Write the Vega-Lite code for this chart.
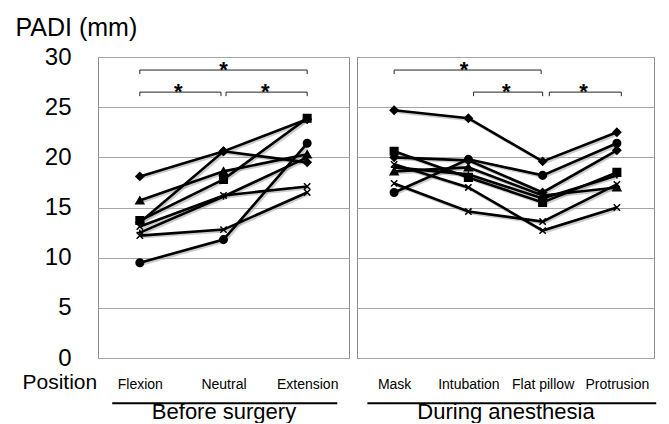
{
  "$schema": "https://vega.github.io/schema/vega-lite/v6.json",
  "padding": {"left": 14, "right": 14, "top": 14, "bottom": 0},
  "config": {
    "font": "Liberation Sans",
    "view": {"stroke": "#8c8c8c", "strokeWidth": 1},
    "axis": {"labelFont": "Liberation Sans", "titleFont": "Liberation Sans", "labelColor": "#000", "titleColor": "#000", "titleFontWeight": "normal", "ticks": false, "domain": false}
  },
  "datasets": {
    "before": [
      {"s": "A", "i": 0, "v": 18.1}, {"s": "A", "i": 1, "v": 20.6}, {"s": "A", "i": 2, "v": 19.5},
      {"s": "B", "i": 0, "v": 15.7}, {"s": "B", "i": 1, "v": 18.6}, {"s": "B", "i": 2, "v": 20.3},
      {"s": "C", "i": 0, "v": 13.7}, {"s": "C", "i": 1, "v": 17.8}, {"s": "C", "i": 2, "v": 23.9},
      {"s": "D", "i": 0, "v": 13.5}, {"s": "D", "i": 1, "v": 20.6}, {"s": "D", "i": 2, "v": 23.8},
      {"s": "E", "i": 0, "v": 13.1}, {"s": "E", "i": 1, "v": 16.2}, {"s": "E", "i": 2, "v": 17.1},
      {"s": "F", "i": 0, "v": 12.5}, {"s": "F", "i": 1, "v": 16.1}, {"s": "F", "i": 2, "v": 20.0},
      {"s": "G", "i": 0, "v": 12.2}, {"s": "G", "i": 1, "v": 12.8}, {"s": "G", "i": 2, "v": 16.5},
      {"s": "H", "i": 0, "v": 9.5}, {"s": "H", "i": 1, "v": 11.8}, {"s": "H", "i": 2, "v": 21.4}
    ],
    "during": [
      {"s": "A", "i": 0, "v": 24.7}, {"s": "A", "i": 1, "v": 23.9}, {"s": "A", "i": 2, "v": 19.6}, {"s": "A", "i": 3, "v": 22.5},
      {"s": "B", "i": 0, "v": 18.6}, {"s": "B", "i": 1, "v": 19.0}, {"s": "B", "i": 2, "v": 16.2}, {"s": "B", "i": 3, "v": 17.0},
      {"s": "C", "i": 0, "v": 20.6}, {"s": "C", "i": 1, "v": 18.0}, {"s": "C", "i": 2, "v": 15.5}, {"s": "C", "i": 3, "v": 18.5},
      {"s": "D", "i": 0, "v": 20.0}, {"s": "D", "i": 1, "v": 19.7}, {"s": "D", "i": 2, "v": 16.5}, {"s": "D", "i": 3, "v": 20.7},
      {"s": "E", "i": 0, "v": 17.4}, {"s": "E", "i": 1, "v": 14.6}, {"s": "E", "i": 2, "v": 13.6}, {"s": "E", "i": 3, "v": 17.3},
      {"s": "F", "i": 0, "v": 19.0}, {"s": "F", "i": 1, "v": 18.3}, {"s": "F", "i": 2, "v": 15.9}, {"s": "F", "i": 3, "v": 18.2},
      {"s": "G", "i": 0, "v": 19.3}, {"s": "G", "i": 1, "v": 17.0}, {"s": "G", "i": 2, "v": 12.7}, {"s": "G", "i": 3, "v": 15.0},
      {"s": "H", "i": 0, "v": 16.5}, {"s": "H", "i": 1, "v": 19.8}, {"s": "H", "i": 2, "v": 18.2}, {"s": "H", "i": 3, "v": 21.4}
    ],
    "bracketsBefore": [
      {"x1": 0, "x2": 2, "y": 28.7, "y2": 28.3},
      {"x1": 0, "x2": 0.97, "y": 26.5, "y2": 26.1},
      {"x1": 1.03, "x2": 2, "y": 26.5, "y2": 26.1}
    ],
    "starsBefore": [
      {"x": 1.0, "y": 28.0}, {"x": 0.46, "y": 25.8}, {"x": 1.5, "y": 25.8}
    ],
    "bracketsDuring": [
      {"x1": 0, "x2": 1.98, "y": 28.7, "y2": 28.3},
      {"x1": 1.07, "x2": 2.0, "y": 26.5, "y2": 26.1},
      {"x1": 2.09, "x2": 3.06, "y": 26.5, "y2": 26.1}
    ],
    "starsDuring": [
      {"x": 0.94, "y": 28.0}, {"x": 1.51, "y": 25.8}, {"x": 2.55, "y": 25.8}
    ]
  },
  "spacing": 6,
  "hconcat": [
    {
      "width": 251,
      "height": 301,
      "layer": [
        {
          "data": {"name": "before"},
          "mark": {"type": "line", "color": "#9a9a9a", "strokeWidth": 3, "opacity": 0.5, "xOffset": 1.5, "yOffset": 1.5},
          "encoding": {
            "x": {"field": "i", "type": "quantitative", "scale": {"domain": [-0.5, 2.5]},
              "axis": {"values": [0, 1, 2], "grid": false, "labelExpr": "['Flexion','Neutral','Extension'][datum.value]", "labelFontSize": 14, "labelPadding": 19, "title": "Before surgery", "titleFontSize": 22, "titlePadding": 10}},
            "y": {"field": "v", "type": "quantitative", "scale": {"domain": [0, 30]},
              "axis": {"values": [0, 5, 10, 15, 20, 25, 30], "grid": true, "gridColor": "#a6a6a6", "gridWidth": 1, "labelFontSize": 24, "labelPadding": 27, "title": "PADI (mm)", "titleFontSize": 25, "titleAngle": 0, "titleAlign": "left", "titleBaseline": "alphabetic", "titleX": -83, "titleY": -22}},
            "detail": {"field": "s"}
          }
        },
        {
          "data": {"name": "before"},
          "mark": {"type": "line", "color": "#000", "strokeWidth": 2.6},
          "encoding": {
            "x": {"field": "i", "type": "quantitative", "scale": {"domain": [-0.5, 2.5]}},
            "y": {"field": "v", "type": "quantitative", "scale": {"domain": [0, 30]}},
            "detail": {"field": "s"}
          }
        },
        {
          "data": {"name": "before"},
          "transform": [{"filter": {"field": "s", "oneOf": ["A", "B", "C", "D", "H"]}}],
          "mark": {"type": "point", "filled": true, "fill": "#000", "stroke": "#000", "size": 50, "opacity": 1},
          "encoding": {
            "x": {"field": "i", "type": "quantitative", "scale": {"domain": [-0.5, 2.5]}},
            "y": {"field": "v", "type": "quantitative", "scale": {"domain": [0, 30]}},
            "shape": {"field": "s", "type": "nominal", "legend": null, "scale": {"domain": ["A", "B", "C", "D", "E", "F", "G", "H"], "range": ["diamond", "triangle-up", "square", "diamond", "M-1,-1L1,1M-1,1L1,-1", "M0,-1L0,1M-1,0L1,0", "M-1,-1L1,1M-1,1L1,-1", "circle"]}}
          }
        },
        {
          "data": {"name": "before"},
          "transform": [{"filter": {"field": "s", "oneOf": ["E", "F", "G"]}}],
          "mark": {"type": "point", "filled": false, "stroke": "#000", "strokeWidth": 1.5, "size": 40, "opacity": 1},
          "encoding": {
            "x": {"field": "i", "type": "quantitative", "scale": {"domain": [-0.5, 2.5]}},
            "y": {"field": "v", "type": "quantitative", "scale": {"domain": [0, 30]}},
            "shape": {"field": "s", "type": "nominal", "legend": null}
          }
        },
        {
          "data": {"name": "bracketsBefore"},
          "mark": {"type": "rule", "color": "#222", "strokeWidth": 1},
          "encoding": {
            "x": {"field": "x1", "type": "quantitative", "scale": {"domain": [-0.5, 2.5]}},
            "x2": {"field": "x2"},
            "y": {"field": "y", "type": "quantitative", "scale": {"domain": [0, 30]}}
          }
        },
        {
          "data": {"name": "bracketsBefore"},
          "mark": {"type": "rule", "color": "#222", "strokeWidth": 1},
          "encoding": {
            "x": {"field": "x1", "type": "quantitative", "scale": {"domain": [-0.5, 2.5]}},
            "y": {"field": "y", "type": "quantitative", "scale": {"domain": [0, 30]}},
            "y2": {"field": "y2"}
          }
        },
        {
          "data": {"name": "bracketsBefore"},
          "mark": {"type": "rule", "color": "#222", "strokeWidth": 1},
          "encoding": {
            "x": {"field": "x2", "type": "quantitative", "scale": {"domain": [-0.5, 2.5]}},
            "y": {"field": "y", "type": "quantitative", "scale": {"domain": [0, 30]}},
            "y2": {"field": "y2"}
          }
        },
        {
          "data": {"name": "starsBefore"},
          "mark": {"type": "text", "text": "*", "fontSize": 22, "fontWeight": "bold", "align": "center", "baseline": "alphabetic", "fill": "#000"},
          "encoding": {
            "x": {"field": "x", "type": "quantitative", "scale": {"domain": [-0.5, 2.5]}},
            "y": {"field": "y", "type": "quantitative", "scale": {"domain": [0, 30]}}
          }
        },
        {
          "data": {"values": [{}]},
          "mark": {"type": "rule", "color": "#000", "strokeWidth": 2, "clip": false},
          "encoding": {
            "x": {"datum": -0.33, "type": "quantitative", "scale": {"domain": [-0.5, 2.5]}},
            "x2": {"datum": 2.36},
            "y": {"datum": -4.5, "type": "quantitative", "scale": {"domain": [0, 30]}}
          }
        },
        {
          "data": {"values": [{}]},
          "mark": {"type": "text", "text": "Position", "fontSize": 21, "align": "right", "baseline": "alphabetic", "fill": "#000", "clip": false},
          "encoding": {
            "x": {"datum": -0.51, "type": "quantitative", "scale": {"domain": [-0.5, 2.5]}},
            "y": {"datum": -3.1, "type": "quantitative", "scale": {"domain": [0, 30]}}
          }
        }
      ]
    },
    {
      "width": 297,
      "height": 301,
      "layer": [
        {
          "data": {"name": "during"},
          "mark": {"type": "line", "color": "#9a9a9a", "strokeWidth": 3, "opacity": 0.5, "xOffset": 1.5, "yOffset": 1.5},
          "encoding": {
            "x": {"field": "i", "type": "quantitative", "scale": {"domain": [-0.5, 3.5]},
              "axis": {"values": [0, 1, 2, 3], "grid": false, "labelExpr": "['Mask','Intubation','Flat pillow','Protrusion'][datum.value]", "labelFontSize": 14, "labelPadding": 19, "title": "During anesthesia", "titleFontSize": 22, "titlePadding": 10}},
            "y": {"field": "v", "type": "quantitative", "scale": {"domain": [0, 30]},
              "axis": {"values": [0, 5, 10, 15, 20, 25, 30], "grid": true, "gridColor": "#a6a6a6", "gridWidth": 1, "labels": false, "title": null}},
            "detail": {"field": "s"}
          }
        },
        {
          "data": {"name": "during"},
          "mark": {"type": "line", "color": "#000", "strokeWidth": 2.6},
          "encoding": {
            "x": {"field": "i", "type": "quantitative", "scale": {"domain": [-0.5, 3.5]}},
            "y": {"field": "v", "type": "quantitative", "scale": {"domain": [0, 30]}},
            "detail": {"field": "s"}
          }
        },
        {
          "data": {"name": "during"},
          "transform": [{"filter": {"field": "s", "oneOf": ["A", "B", "C", "D", "H"]}}],
          "mark": {"type": "point", "filled": true, "fill": "#000", "stroke": "#000", "size": 50, "opacity": 1},
          "encoding": {
            "x": {"field": "i", "type": "quantitative", "scale": {"domain": [-0.5, 3.5]}},
            "y": {"field": "v", "type": "quantitative", "scale": {"domain": [0, 30]}},
            "shape": {"field": "s", "type": "nominal", "legend": null, "scale": {"domain": ["A", "B", "C", "D", "E", "F", "G", "H"], "range": ["diamond", "triangle-up", "square", "diamond", "M0,-1L0,1M-1,0L1,0", "M-1,-1L1,1M-1,1L1,-1", "M-1,-1L1,1M-1,1L1,-1", "circle"]}}
          }
        },
        {
          "data": {"name": "during"},
          "transform": [{"filter": {"field": "s", "oneOf": ["E", "F", "G"]}}],
          "mark": {"type": "point", "filled": false, "stroke": "#000", "strokeWidth": 1.5, "size": 40, "opacity": 1},
          "encoding": {
            "x": {"field": "i", "type": "quantitative", "scale": {"domain": [-0.5, 3.5]}},
            "y": {"field": "v", "type": "quantitative", "scale": {"domain": [0, 30]}},
            "shape": {"field": "s", "type": "nominal", "legend": null}
          }
        },
        {
          "data": {"name": "bracketsDuring"},
          "mark": {"type": "rule", "color": "#222", "strokeWidth": 1},
          "encoding": {
            "x": {"field": "x1", "type": "quantitative", "scale": {"domain": [-0.5, 3.5]}},
            "x2": {"field": "x2"},
            "y": {"field": "y", "type": "quantitative", "scale": {"domain": [0, 30]}}
          }
        },
        {
          "data": {"name": "bracketsDuring"},
          "mark": {"type": "rule", "color": "#222", "strokeWidth": 1},
          "encoding": {
            "x": {"field": "x1", "type": "quantitative", "scale": {"domain": [-0.5, 3.5]}},
            "y": {"field": "y", "type": "quantitative", "scale": {"domain": [0, 30]}},
            "y2": {"field": "y2"}
          }
        },
        {
          "data": {"name": "bracketsDuring"},
          "mark": {"type": "rule", "color": "#222", "strokeWidth": 1},
          "encoding": {
            "x": {"field": "x2", "type": "quantitative", "scale": {"domain": [-0.5, 3.5]}},
            "y": {"field": "y", "type": "quantitative", "scale": {"domain": [0, 30]}},
            "y2": {"field": "y2"}
          }
        },
        {
          "data": {"name": "starsDuring"},
          "mark": {"type": "text", "text": "*", "fontSize": 22, "fontWeight": "bold", "align": "center", "baseline": "alphabetic", "fill": "#000"},
          "encoding": {
            "x": {"field": "x", "type": "quantitative", "scale": {"domain": [-0.5, 3.5]}},
            "y": {"field": "y", "type": "quantitative", "scale": {"domain": [0, 30]}}
          }
        },
        {
          "data": {"values": [{}]},
          "mark": {"type": "rule", "color": "#000", "strokeWidth": 2, "clip": false},
          "encoding": {
            "x": {"datum": -0.36, "type": "quantitative", "scale": {"domain": [-0.5, 3.5]}},
            "x2": {"datum": 3.53},
            "y": {"datum": -4.5, "type": "quantitative", "scale": {"domain": [0, 30]}}
          }
        }
      ]
    }
  ]
}
